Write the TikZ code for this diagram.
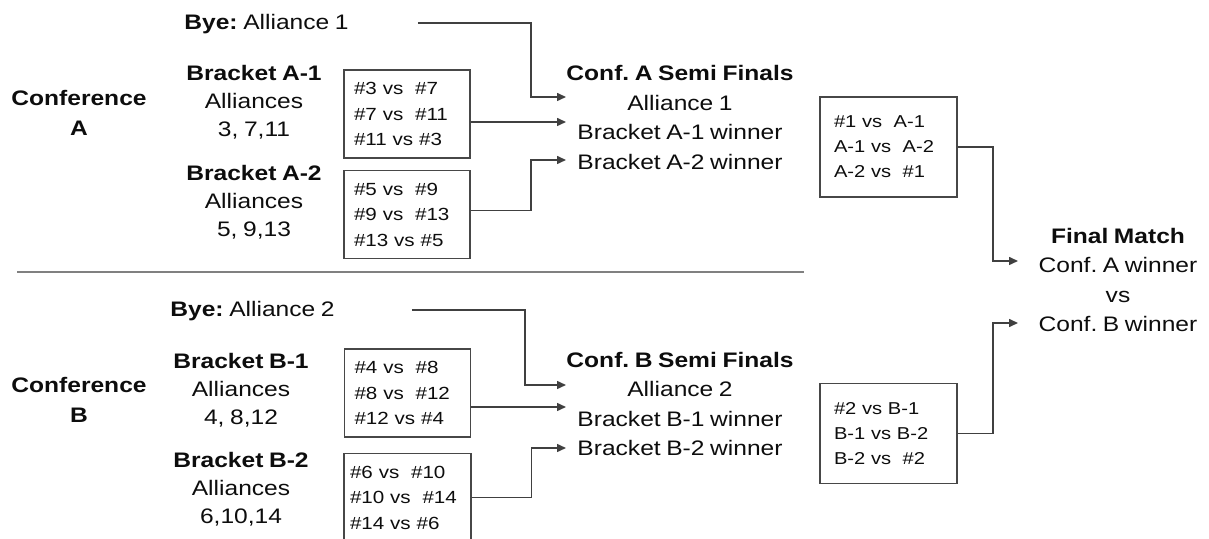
\documentclass[tikz,border=0pt]{standalone}
\usepackage{fontspec}
\setmainfont{Liberation Sans}[FakeStretch=1.17, WordSpace=0.82]
\usepackage{tikz}
\usetikzlibrary{arrows.meta}
\frenchspacing

\begin{document}
\begin{tikzpicture}[x=0.5pt, y=-0.5pt,
		lbl/.style = {align=center, inner sep=0pt, text=black!95, font=\fontsize{10.5}{14}\selectfont},
		games/.style = {draw=black!72, line width=0.8pt, align=left, text=black!95, text width=53pt, inner xsep=5pt, minimum height=44pt, font=\fontsize{8.8}{12.75}\selectfont},
		fin/.style = {games, text width=54.5pt, inner xsep=7pt, minimum height=50pt, font=\fontsize{8.6}{12.5}\selectfont},
		feed/.style = {draw=black!75, line width=0.75pt, -{Triangle[length=4.5pt, width=4pt]}}]
			\useasboundingbox (0,0) rectangle (1209,539);
			\clip (0,0) rectangle (1209,539);

			\node [lbl, font=\fontsize{10.5}{15}\selectfont] (confA) at (79,113) {\textbf{Conference}\\\textbf{A}};
			\node [lbl, font=\fontsize{10.5}{15}\selectfont] (confB) at (79,400) {\textbf{Conference}\\\textbf{B}};

			\node [lbl, anchor=west] (byeA) at (184,24) {\textbf{Bye:} Alliance 1};
			\node [lbl, anchor=west] (byeB) at (170,311) {\textbf{Bye:} Alliance 2};

			\node [lbl] (brA1) at (254,102) {\textbf{Bracket A-1}\\Alliances\\3, 7,11};
			\node [lbl] (brA2) at (254,202) {\textbf{Bracket A-2}\\Alliances\\5, 9,13};
			\node [lbl] (brB1) at (241,390) {\textbf{Bracket B-1}\\Alliances\\4, 8,12};
			\node [lbl] (brB2) at (241,489) {\textbf{Bracket B-2}\\Alliances\\6,10,14};

			\node [games] (gA1) at (407,114) {\#3 vs~~\#7\\\#7 vs~~\#11\\\#11 vs \#3};
			\node [games] (gA2) at (407,214.5) {\#5 vs~~\#9\\\#9 vs~~\#13\\\#13 vs \#5};
			\node [games] (gB1) at (407.5,393) {\#4 vs~~\#8\\\#8 vs~~\#12\\\#12 vs \#4};
			\node [games, inner xsep=3pt, text width=57.5pt] (gB2) at (407.5,497.5) {\#6 vs~~\#10\\\#10 vs~~\#14\\\#14 vs \#6};

			\node [lbl, font=\fontsize{10.5}{14.8}\selectfont] (semiA) at (680,117.5) {\textbf{Conf. A Semi Finals}\\Alliance 1\\Bracket A-1 winner\\Bracket A-2 winner};
			\node [lbl, font=\fontsize{10.5}{14.8}\selectfont] (semiB) at (680,404) {\textbf{Conf. B Semi Finals}\\Alliance 2\\Bracket B-1 winner\\Bracket B-2 winner};

			\node [fin] (finA) at (888.5,147) {\#1 vs~~A-1\\A-1 vs~~A-2\\A-2 vs~~\#1};
			\node [fin] (finB) at (888.5,433.5) {\#2 vs B-1\\B-1 vs B-2\\B-2 vs~~\#2};

			\node [lbl, font=\fontsize{10.5}{14.8}\selectfont] (final) at (1118,280) {\textbf{Final Match}\\Conf. A winner\\vs\\Conf. B winner};

			\coordinate (inA0) at (566,97);
			\coordinate (inA1) at (566,122);
			\coordinate (inA2) at (566,160);
			\coordinate (inB0) at (566,385);
			\coordinate (inB1) at (566,407);
			\coordinate (inB2) at (566,448);
			\coordinate (inFA) at (1018,261);
			\coordinate (inFB) at (1018,323);

			\draw [feed] ([xshift=34.5pt]byeA.east |- 0,23) -- ++(113,0) |- (inA0);
			\draw [feed] (gA1.east |- inA1) to (inA1);
			\draw [feed] ([yshift=2pt]gA2.east) -- ++(60,0) |- (inA2);
			\draw [feed] ([xshift=38.5pt]byeB.east |- 0,310) -- ++(113,0) |- (inB0);
			\draw [feed] (gB1.east |- inB1) to (inB1);
			\draw [feed] (gB2.east) -- ++(59.5,0) |- (inB2);
			\draw [feed] (finA.east) -- ++(35,0) |- (inFA);
			\draw [feed] (finB.east) -- ++(35,0) |- (inFB);

			\draw [black!50, line width=1pt] (17,272) to (804,272);
		\end{tikzpicture}
\end{document}
